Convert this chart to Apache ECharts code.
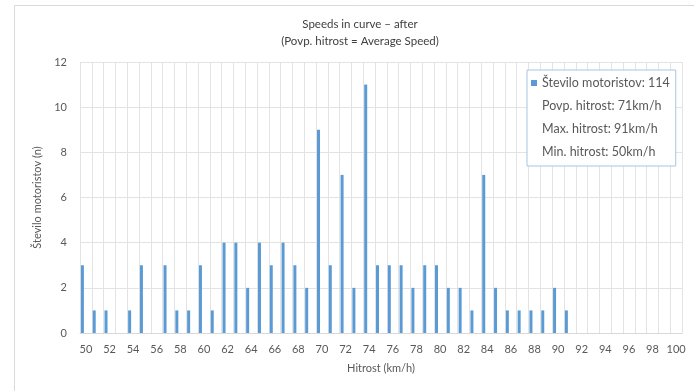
<!DOCTYPE html>
<html><head><meta charset="utf-8">
<script src="https://cdn.jsdelivr.net/npm/echarts@6/dist/echarts.min.js"></script>
<style>html,body{margin:0;padding:0;background:#fff}#c{width:694px;height:391px}</style>
</head><body><div id="c"></div>
<script>
const speeds = ["50","51","52","53","54","55","56","57","58","59","60","61","62","63","64","65","66","67","68","69","70","71","72","73","74","75","76","77","78","79","80","81","82","83","84","85","86","87","88","89","90","91","92","93","94","95","96","97","98","99","100"];
const counts = [3,1,1,0,1,3,0,3,1,1,3,1,4,4,2,4,3,4,3,2,9,3,7,2,11,3,3,3,2,3,3,2,2,1,7,2,1,1,1,1,2,1,0,0,0,0,0,0,0,0,0];
const legendNames = ["Število motoristov: 114","Povp. hitrost: 71km/h","Max. hitrost: 91km/h","Min. hitrost: 50km/h"];
const yTicks = [0,2,4,6,8,10,12];

const chart = echarts.init(document.getElementById('c'));
const txt = '#595959';
const font = 'Lato, "Open Sans", sans-serif';
chart.setOption({
  animation:false,
  textStyle:{fontFamily:font},
  graphic:[{type:'rect',shape:{x:14.5,y:5.5,width:700,height:400},style:{fill:'none',stroke:'#d9d9d9',lineWidth:1},silent:true}],
  title:{
    text:'Speeds in curve \u2013 after\n(Povp. hitrost = Average Speed)',
    left:355, top:11, textAlign:'center',
    textStyle:{fontSize:11.5,fontWeight:'normal',color:'#404040',lineHeight:17,fontFamily:font}
  },
  legend:{
    orient:'vertical', left:527, top:70,
    padding:[6,6,7,4],
    itemGap:9, itemWidth:6, itemHeight:6,
    borderColor:'#a9c4e0', borderWidth:1, backgroundColor:'#fff',
    textStyle:{fontSize:12.5,color:txt,fontFamily:font,lineHeight:14},
    data:legendNames.map((n,i)=>({name:n, icon:'rect', itemStyle: i===0?{color:'#5b9bd5'}:{color:'rgba(0,0,0,0)'}}))
  },
  grid:{left:80,right:12,top:62,bottom:58},
  xAxis:{
    type:'category', data:speeds, boundaryGap:true,
    name:'Hitrost (km/h)', nameLocation:'middle', nameGap:30,
    nameTextStyle:{fontSize:11,color:txt},
    axisLine:{lineStyle:{color:'#d9d9d9'}},
    axisTick:{show:false},
    axisLabel:{interval:1,color:txt,fontSize:11,margin:11},
    splitLine:{show:true,interval:0,lineStyle:{color:'#e3e3e3'}}
  },
  yAxis:{
    type:'value', min:yTicks[0], max:yTicks[yTicks.length-1], interval:2,
    name:'Število motoristov (n)', nameLocation:'middle', nameGap:34,
    nameTextStyle:{fontSize:11,color:txt},
    axisLine:{show:false}, axisTick:{show:false},
    axisLabel:{color:txt,fontSize:11,margin:13},
    splitLine:{lineStyle:{color:'#e3e3e3'}}
  },
  series:[
    {name:legendNames[0],type:'bar',data:counts,barWidth:3,barGap:'133%',itemStyle:{color:'#5b9bd5'}},
    {name:legendNames[1],type:'bar',data:[],barWidth:3},
    {name:legendNames[2],type:'line',data:[]},
    {name:legendNames[3],type:'line',data:[]}
  ]
});
</script></body></html>
